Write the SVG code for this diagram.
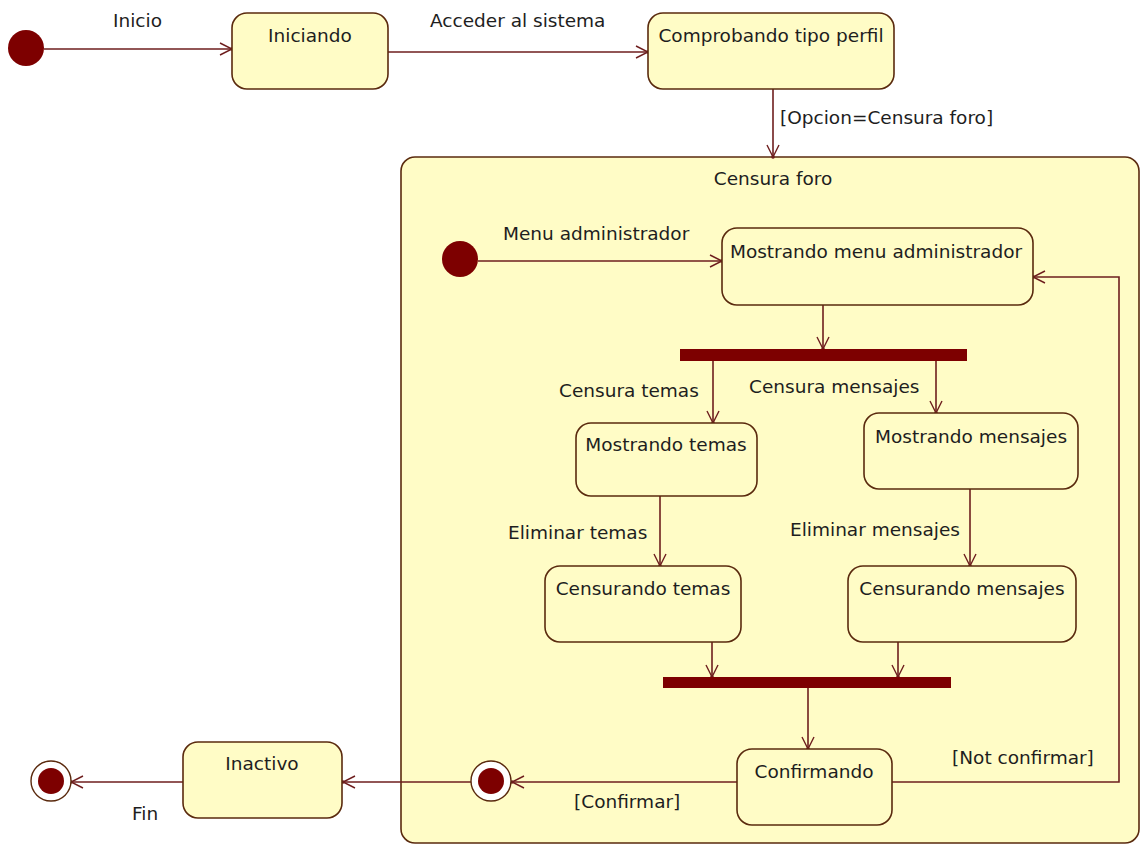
<svg xmlns="http://www.w3.org/2000/svg" width="1140" height="844" viewBox="0 0 1140 844">
<style>
.st{fill:#fffcc6;stroke:#5a2a0e;stroke-width:1.6}
.comp{fill:#fffcc6;stroke:#5a2a0e;stroke-width:1.6}
.t{font-family:"DejaVu Sans",Verdana,sans-serif;font-size:18.5px;fill:#1e1e1e}
.c{text-anchor:middle}
.ln{fill:none;stroke:#6e1e1e;stroke-width:1.6;marker-end:url(#ah)}
.ln2{fill:none;stroke:#6e1e1e;stroke-width:1.6}
.dot{fill:#7d0000}
.bar{fill:#7d0000}
</style>
<defs>
<marker id="ah" markerUnits="userSpaceOnUse" markerWidth="20" markerHeight="20" refX="14" refY="8" orient="auto" overflow="visible">
<path d="M2 2 L14 8 L2 14" fill="none" stroke="#6e1e1e" stroke-width="1.4"/>
<circle cx="14" cy="8" r="1.8" fill="#6e1e1e"/>
</marker>
</defs>
<rect width="1140" height="844" fill="#ffffff"/>

<g id="censura-foro">
<rect class="comp" x="401" y="157" width="738" height="686" rx="14"/>
<text class="t c" x="773" y="185">Censura foro</text>
</g>

<g id="connectors">
<path class="ln" d="M44 49 L232 49"/>
<path class="ln" d="M388 52 L648 52"/>
<path class="ln" d="M773 89 L773 157"/>
<path class="ln" d="M478 261 L722 261"/>
<path class="ln" d="M823 305 L823 349"/>
<path class="ln" d="M713 361 L713 423"/>
<path class="ln" d="M936 361 L936 413"/>
<path class="ln" d="M660 496 L660 566"/>
<path class="ln" d="M970 489 L970 566"/>
<path class="ln" d="M712 642 L712 677"/>
<path class="ln" d="M898 642 L898 677"/>
<path class="ln" d="M808 688 L808 749"/>
<path class="ln" d="M892 782 L1119 782 L1119 277 L1033 277"/>
<path class="ln" d="M737 782 L512 782"/>
<path class="ln" d="M471 782 L343 782"/>
<path class="ln" d="M183 782 L71 782"/>
</g>

<g id="labels">
<text class="t" x="113" y="27">Inicio</text>
<text class="t" x="430" y="27">Acceder al sistema</text>
<text class="t" x="780" y="124">[Opcion=Censura foro]</text>
<text class="t" x="503" y="240">Menu administrador</text>
<text class="t" x="559" y="397">Censura temas</text>
<text class="t" x="749" y="393">Censura mensajes</text>
<text class="t" x="508" y="539">Eliminar temas</text>
<text class="t" x="790" y="536">Eliminar mensajes</text>
<text class="t" x="952" y="764">[Not confirmar]</text>
<text class="t" x="574" y="808">[Confirmar]</text>
<text class="t" x="132" y="820">Fin</text>
</g>

<g id="initial-top"><circle class="dot" cx="26" cy="48" r="18"/></g>
<g id="iniciando"><rect class="st" x="232" y="13" width="156" height="76" rx="15"/><text class="t c" x="310" y="42">Iniciando</text></g>
<g id="comprobando"><rect class="st" x="648" y="13" width="246" height="76" rx="15"/><text class="t c" x="771" y="42">Comprobando tipo perfil</text></g>

<g id="initial-inner"><circle class="dot" cx="460" cy="259" r="18"/></g>
<g id="mostrando-menu"><rect class="st" x="722" y="228" width="311" height="77" rx="15"/><text class="t c" x="876" y="258">Mostrando menu administrador</text></g>
<g id="fork"><rect class="bar" x="680" y="349" width="287" height="12"/></g>
<g id="mostrando-temas"><rect class="st" x="576" y="423" width="181" height="73" rx="15"/><text class="t c" x="666" y="451">Mostrando temas</text></g>
<g id="mostrando-mensajes"><rect class="st" x="864" y="413" width="214" height="76" rx="15"/><text class="t c" x="971" y="443">Mostrando mensajes</text></g>
<g id="censurando-temas"><rect class="st" x="545" y="566" width="196" height="76" rx="15"/><text class="t c" x="643" y="595">Censurando temas</text></g>
<g id="censurando-mensajes"><rect class="st" x="848" y="566" width="228" height="76" rx="15"/><text class="t c" x="962" y="595">Censurando mensajes</text></g>
<g id="join"><rect class="bar" x="663" y="677" width="288" height="11"/></g>
<g id="confirmando"><rect class="st" x="737" y="749" width="155" height="76" rx="15"/><text class="t c" x="814" y="778">Confirmando</text></g>
<g id="final-inner"><circle cx="491" cy="781" r="20" fill="#ffffff" stroke="#5a2a0e" stroke-width="1.4"/><circle class="dot" cx="491" cy="781" r="13"/></g>
<g id="inactivo"><rect class="st" x="183" y="742" width="159" height="76" rx="15"/><text class="t c" x="262" y="770">Inactivo</text></g>
<g id="final-outer"><circle cx="51" cy="781" r="20" fill="#ffffff" stroke="#5a2a0e" stroke-width="1.4"/><circle class="dot" cx="51" cy="781" r="13"/></g>
</svg>
